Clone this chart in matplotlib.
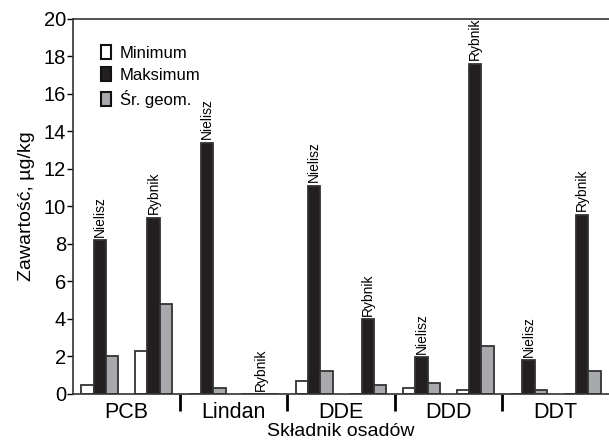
import numpy as np
import matplotlib
matplotlib.use("Agg")
import matplotlib.pyplot as plt
from matplotlib.patches import Patch

plt.rcParams["font.family"] = ["Liberation Sans", "DejaVu Sans"]

# Data (ug/kg)
categories = ["PCB", "Lindan", "DDE", "DDD", "DDT"]
sites = ["Nielisz", "Rybnik"]
nielisz_min = [0.5, 0.0, 0.7, 0.3, 0.0]
nielisz_max = [8.2, 13.4, 11.1, 1.95, 1.8]
nielisz_geo = [2.0, 0.3, 1.2, 0.6, 0.2]
rybnik_min = [2.3, 0.0, 0.0, 0.2, 0.0]
rybnik_max = [9.4, 0.0, 4.0, 17.6, 9.55]
rybnik_geo = [4.8, 0.0, 0.5, 2.55, 1.2]

fig = plt.figure(figsize=(6.09, 4.46), dpi=100)
ax = fig.add_axes([0.12, 0.1166, 0.88, 0.841])

w = 0.115
edge = "#333333"
colors = ["white", "#231f20", "#a7a9ac"]
x = np.arange(len(categories))

site_data = [
    (nielisz_min, nielisz_max, nielisz_geo),
    (rybnik_min, rybnik_max, rybnik_geo),
]

for s, (mins, maxs, geos) in enumerate(site_data):
    centers = x + 0.25 + 0.5 * s
    for j, vals in enumerate((mins, maxs, geos)):
        ax.bar(centers + (j - 1) * w, vals, width=w, color=colors[j],
               edgecolor=edge, linewidth=1.3, zorder=2)
    for c, v in zip(centers, maxs):
        ax.annotate(sites[s], (c, v), xytext=(0, 2.5), textcoords="offset points",
                    rotation=90, ha="center", va="bottom", fontsize=10)

ax.set_xlim(0, 5)
ax.set_ylim(0, 20)
ax.set_yticks(np.arange(0, 21, 2))
ax.tick_params(axis="y", labelsize=14.5, length=4, width=1, direction="out", pad=1)

ax.set_xticks([1, 2, 3, 4])
ax.set_xticklabels([])
ax.tick_params(axis="x", which="major", length=12, width=2, direction="out")
ax.set_xticks(x + 0.5, minor=True)
ax.set_xticklabels(categories, minor=True, fontsize=15.5)
ax.tick_params(axis="x", which="minor", length=0, pad=6)

ax.spines["right"].set_visible(False)
for sp in ["left", "top", "bottom"]:
    ax.spines[sp].set_linewidth(1.2)
    ax.spines[sp].set_color("#333333")

ax.set_ylabel("Zawartość, µg/kg", fontsize=14, labelpad=6)
ax.set_xlabel("Składnik osadów", fontsize=14, labelpad=0)

handles = [Patch(facecolor=c, edgecolor="#111111", linewidth=1.5) for c in colors]
ax.legend(handles, ["Minimum", "Maksimum", "Śr. geom."], loc="upper left",
          bbox_to_anchor=(0.025, 0.97), frameon=False, fontsize=12,
          handlelength=0.6, handleheight=0.9, handletextpad=0.5, labelspacing=0.4)

fig.savefig("out.png", dpi=100)
